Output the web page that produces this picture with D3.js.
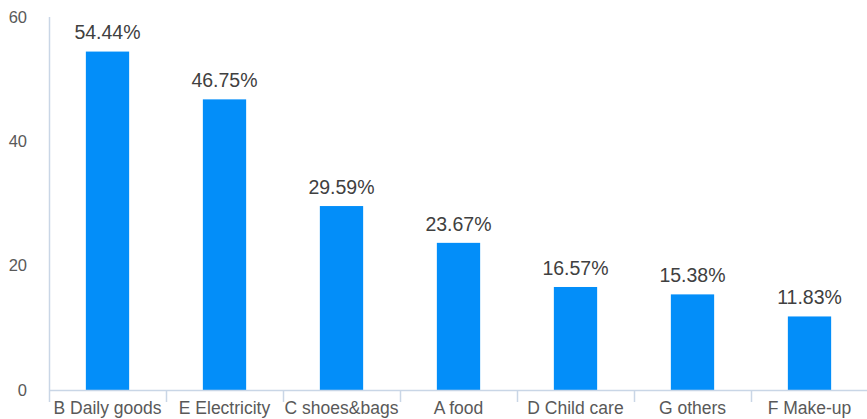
<!DOCTYPE html>
<html><head><meta charset="utf-8">
<script src="https://cdn.jsdelivr.net/npm/d3@7"></script>
<style>body{margin:0;background:#fff}</style>
</head><body><svg id="c" width="867" height="419"></svg>
<script>
const categories = ["B Daily goods","E Electricity","C shoes&bags","A food","D Child care","G others","F Make-up"];
const values = [54.44, 46.75, 29.59, 23.67, 16.57, 15.38, 11.83];
const yTicks = [0, 20, 40, 60];

const svg = d3.select("#c");
const x0 = 49, x1 = 868, yBase = 390, yTop = 17;
const x = d3.scaleBand().domain(categories).range([x0, x1]).paddingInner(0.63).paddingOuter(0.315);
const y = d3.scaleLinear().domain([0, 60]).range([yBase, yTop]);
const axisColor = "#c9d6e6";
const font = "'Liberation Sans', Arial, sans-serif";

// y axis line
svg.append("line").attr("x1", x0+0.5).attr("x2", x0+0.5).attr("y1", yTop).attr("y2", yBase).attr("stroke", axisColor).attr("stroke-width", 1.5);
// y tick labels
svg.selectAll("text.yt").data(yTicks).join("text").attr("class","yt")
  .attr("x", 27).attr("y", d => y(d)).attr("dy", "0.35em").attr("text-anchor","end")
  .attr("font-family", font).attr("font-size", 16.5).attr("fill", "#595959").text(d => d);

// bars
svg.selectAll("rect.bar").data(values).join("rect").attr("class","bar")
  .attr("x", (d,i) => x(categories[i])).attr("width", x.bandwidth())
  .attr("y", d => y(d)).attr("height", d => yBase - y(d)).attr("fill", "#038ef9");

// x axis
svg.append("line").attr("x1", x0).attr("x2", x1).attr("y1", yBase+0.5).attr("y2", yBase+0.5).attr("stroke", axisColor).attr("stroke-width", 1.5);
const step = x.step();
const bounds = d3.range(categories.length + 1).map(i => x0 + i * step);
svg.selectAll("line.tick").data(bounds).join("line").attr("class","tick")
  .attr("x1", d => d+0.5).attr("x2", d => d+0.5).attr("y1", yBase).attr("y2", yBase + 12)
  .attr("stroke", axisColor).attr("stroke-width", 1.5);

// category labels
svg.selectAll("text.cat").data(categories).join("text").attr("class","cat")
  .attr("x", d => x(d) + x.bandwidth()/2).attr("y", 408).attr("dy","0.35em").attr("text-anchor","middle")
  .attr("font-family", font).attr("font-size", 17.5).attr("fill", "#595959").text(d => d);

// value labels
svg.selectAll("text.val").data(values).join("text").attr("class","val")
  .attr("x", (d,i) => x(categories[i]) + x.bandwidth()/2).attr("y", d => y(d) - 19).attr("dy","0.35em").attr("text-anchor","middle")
  .attr("font-family", font).attr("font-size", 19.5).attr("fill", "#404040").text(d => d.toFixed(2) + "%");
</script></body></html>
